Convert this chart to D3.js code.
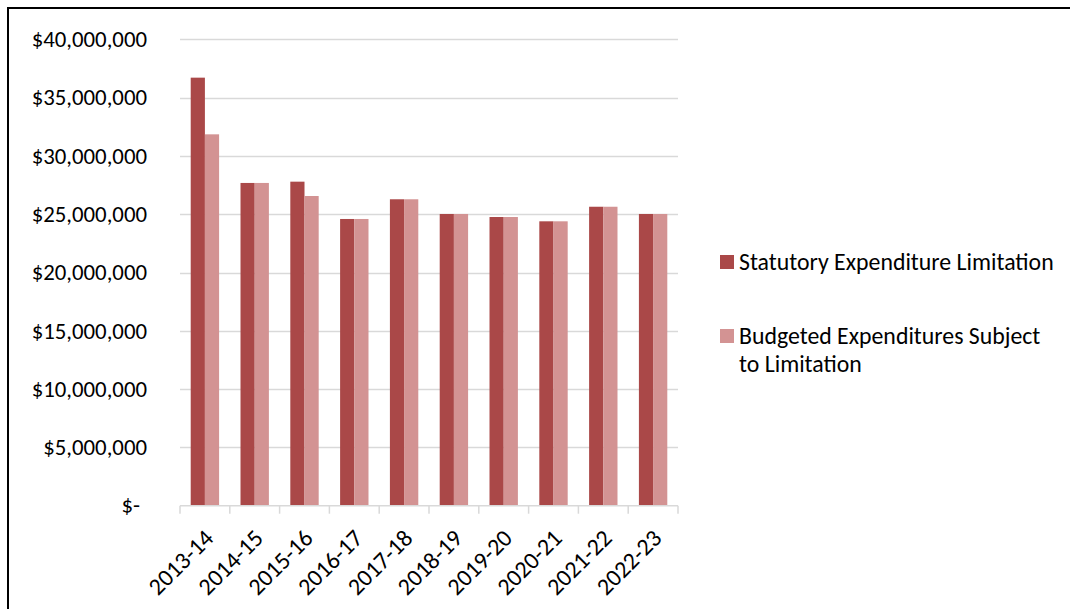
<!DOCTYPE html>
<html>
<head>
<meta charset="utf-8">
<script src="https://cdn.jsdelivr.net/npm/d3@7"></script>
<style>
  html, body { margin: 0; padding: 0; background: #fff; }
  svg { display: block; }
  text { font-family: Carlito, Calibri, Lato, sans-serif; fill: #000; }
</style>
</head>
<body>
<svg id="chart" width="1070" height="609"></svg>
<script>
// Fiscal years on the category axis
const years = ["2013-14", "2014-15", "2015-16", "2016-17", "2017-18",
               "2018-19", "2019-20", "2020-21", "2021-22", "2022-23"];

// Series values (dollars)
const statutoryLimit = [36710000, 27680000, 27790000, 24590000, 26280000,
                        25020000, 24760000, 24390000, 25640000, 25020000];
const budgetedSubject = [31850000, 27680000, 26560000, 24590000, 26280000,
                         25020000, 24760000, 24390000, 25640000, 25020000];

const seriesNames = ["Statutory Expenditure Limitation",
                     "Budgeted Expenditures Subject to Limitation"];
const seriesColors = ["#AA4848", "#D39393"];

// Value axis ticks
const yTicks = [0, 5000000, 10000000, 15000000, 20000000,
                25000000, 30000000, 35000000, 40000000];

const svg = d3.select("#chart");

// Outer frame
svg.append("rect")
  .attr("x", 8).attr("y", 8)
  .attr("width", 1100).attr("height", 640)
  .attr("fill", "none").attr("stroke", "#000").attr("stroke-width", 2);

const plot = { left: 180, right: 678, top: 39.3, bottom: 505.7 };

const y = d3.scaleLinear().domain([0, 40000000]).range([plot.bottom, plot.top]);
const x0 = d3.scaleBand().domain(years).range([plot.left, plot.right])
  .paddingInner(0.43).paddingOuter(0.215);
const x1 = d3.scaleBand().domain([0, 1]).range([0, x0.bandwidth()]);

// Gridlines
svg.append("g")
  .selectAll("line")
  .data(yTicks.filter(d => d > 0))
  .join("line")
  .attr("x1", plot.left).attr("x2", plot.right)
  .attr("y1", d => Math.round(y(d)) + 0.5).attr("y2", d => Math.round(y(d)) + 0.5)
  .attr("stroke", "#d9d9d9").attr("stroke-width", 1.5);

// Value axis labels
const fmt = d => d === 0 ? "$-" : "$" + d3.format(",")(d);
const yAxis = svg.append("g")
  .attr("transform", `translate(${plot.left},0)`)
  .call(d3.axisLeft(y).tickValues(yTicks).tickFormat(fmt).tickSize(0).tickPadding(33));
yAxis.select(".domain").remove();
yAxis.selectAll("text")
  .style("font-size", "22.8px")
  .attr("dx", d => d === 0 ? -7 : 0);

// Bars
const rows = years.map((yr, i) => ({ yr, vals: [statutoryLimit[i], budgetedSubject[i]] }));
svg.append("g")
  .selectAll("g")
  .data(rows)
  .join("g")
  .attr("transform", d => `translate(${x0(d.yr)},0)`)
  .selectAll("rect")
  .data(d => d.vals.map((v, k) => ({ v, k })))
  .join("rect")
  .attr("x", d => x1(d.k))
  .attr("width", x1.bandwidth())
  .attr("y", d => y(d.v))
  .attr("height", d => y(0) - y(d.v))
  .attr("fill", d => seriesColors[d.k]);

// Category axis with tick marks at category boundaries
const xAxisG = svg.append("g");
xAxisG.append("line")
  .attr("x1", plot.left).attr("x2", plot.right)
  .attr("y1", plot.bottom).attr("y2", plot.bottom)
  .attr("stroke", "#d9d9d9").attr("stroke-width", 1.5);
const boundaries = d3.range(years.length + 1).map(i => plot.left + i * x0.step());
xAxisG.selectAll(".tick-mark")
  .data(boundaries)
  .join("line")
  .attr("x1", d => d).attr("x2", d => d)
  .attr("y1", plot.bottom).attr("y2", plot.bottom + 8)
  .attr("stroke", "#d9d9d9").attr("stroke-width", 1.5);
xAxisG.selectAll("text")
  .data(years)
  .join("text")
  .attr("transform", d => `translate(${x0(d) + x0.bandwidth() / 2 + 4},${plot.bottom + 28}) rotate(-45)`)
  .attr("text-anchor", "end")
  .attr("dy", "0.35em")
  .style("font-size", "24px")
  .text(d => d);

// Legend
const legend = svg.append("g");
const legendItems = [
  { k: 0, y: 262, lines: ["Statutory Expenditure Limitation"] },
  { k: 1, y: 336, lines: ["Budgeted Expenditures Subject", "to Limitation"] }
];
legendItems.forEach(item => {
  legend.append("rect")
    .attr("x", 720).attr("y", item.y - 7)
    .attr("width", 14).attr("height", 14)
    .attr("fill", seriesColors[item.k]);
  item.lines.forEach((ln, j) => {
    legend.append("text")
      .attr("x", 739).attr("y", item.y + j * 28)
      .attr("dy", "0.35em")
      .style("font-size", "23.8px")
      .text(ln);
  });
});
</script>
</body>
</html>
